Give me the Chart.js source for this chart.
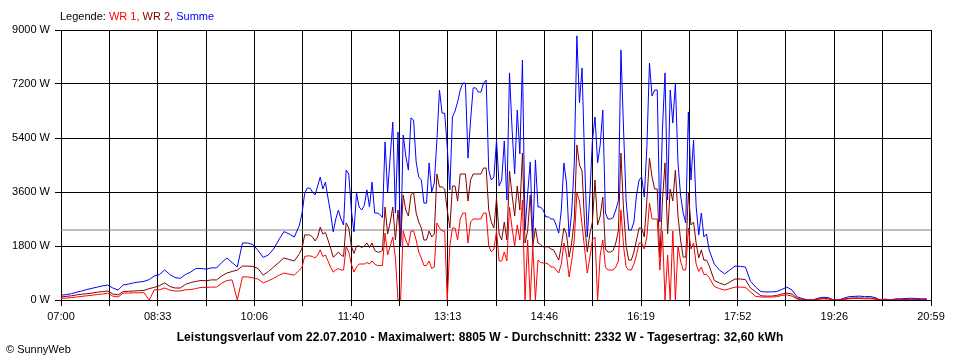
<!DOCTYPE html>
<html><head><meta charset="utf-8">
<script src="https://cdn.jsdelivr.net/npm/chart.js@4.4.1/dist/chart.umd.min.js"></script>
<style>
html,body{margin:0;padding:0;background:#fff;}
#wrap{position:relative;width:960px;height:360px;overflow:hidden;}
canvas{position:absolute;left:0;top:0;}
.txt{position:absolute;font-family:"Liberation Sans",Arial,sans-serif;white-space:nowrap;color:#000;}
#legend{left:60px;top:10px;font-size:11px;line-height:13px;}
#title{left:0;width:960px;text-align:center;top:330px;font-size:12px;font-weight:bold;line-height:14px;letter-spacing:0.1px;}
#copy{left:6px;top:343px;font-size:11px;line-height:13px;}
</style></head><body>
<div id="wrap">
<canvas id="c" width="960" height="360"></canvas>
<div id="legend" class="txt">Legende: <span style="color:#ff0000">WR 1,</span> <span style="color:#800000">WR 2,</span> <span style="color:#0000ff">Summe</span></div>
<div id="title" class="txt">Leistungsverlauf vom 22.07.2010 - Maximalwert: 8805 W - Durchschnitt: 2332 W - Tagesertrag: 32,60 kWh</div>
<div id="copy" class="txt">&copy; SunnyWeb</div>
</div>
<script>
// Time axis in minutes after 07:00. Sampling: 5 min in the morning/evening, 2.5 min around midday.
const totalMinutes = 839; // 07:00 .. 20:59
const sampling = [
  {from: 0,   to: 225, step: 5},
  {from: 230, to: 625, step: 2.5},
  {from: 630, to: 835, step: 5}
];
const xTickLabels = ['07:00','08:33','10:06','11:40','13:13','14:46','16:19','17:52','19:26','20:59'];
const yTickValues = [0,1800,3600,5400,7200,9000];
const averageW = 2332;

// Summe (blue)
const summe = [
 160,180,210,260,300,350,390,430,470,500,
 400,330,500,530,570,600,620,680,800,850,
 1000,850,750,720,850,930,1050,1050,1030,1070,
 1070,1250,1400,1250,1100,1900,1900,1850,1650,1420,
 1500,1700,2000,2280,2200,2100,
 2500,2900,3550,3730,3730,3600,3500,3800,4100,3700,
 3930,3400,2900,2270,2700,3000,2700,2500,4330,4200,
 3000,2270,3570,3100,3000,3150,3670,3100,3930,2900,
 2900,2850,2750,5270,3570,4800,5930,2900,5600,1770,
 5500,4800,4330,6070,6000,4600,4100,4000,3230,3230,
 4570,3600,3900,5330,7000,6230,6230,5100,3670,6100,
 6300,6600,7000,7230,7230,4730,6000,7070,7070,6930,
 6930,7230,7330,4330,4000,4100,5330,3800,4000,5300,
 3330,7570,5700,4200,6330,4870,8000,2330,3530,4600,
 2000,4670,3100,3100,3000,2770,2770,2700,2700,2500,
 2230,3000,4570,3900,2100,2930,4570,8805,6570,7730,
 4570,2100,3500,5330,6100,4570,5170,6330,2900,2700,
 2700,2750,3000,3300,8330,5700,3300,2330,2330,2600,
 3500,4000,4100,3430,5100,7900,6800,7000,7000,2600,
 5670,7570,3330,7000,5900,7230,4570,3500,2900,2570,
 6270,4000,5330,3130,2170,2900,2100,2200,1670,
 1200,1000,870,1000,
 1130,1120,1100,620,430,280,270,270,280,350,
 430,330,100,50,0,0,60,90,80,0,
 0,60,110,120,130,110,120,80,0,30,
 0,40,40,50,60,50,40,40];

// WR 2 (dark red)
const wr2 = [
 100,120,140,170,190,210,230,260,280,300,
 200,170,280,290,300,310,320,380,420,480,
 570,450,400,400,520,580,620,650,640,670,
 670,800,900,950,1000,1130,1130,1120,1050,830,
 950,1100,1250,1400,1350,1300,
 1550,1730,2170,2170,2170,2100,1970,2100,2430,2200,
 2250,2000,1730,1430,1500,1600,1500,1450,2570,2400,
 1800,1550,1800,1800,1750,1800,1900,1750,1900,1650,
 1600,1600,1650,3100,2200,2600,3100,2000,3000,1900,
 3500,3000,2800,3500,3600,2900,2600,2400,2000,2000,
 2300,2100,2200,4200,3770,3770,3700,3000,2400,3800,
 3800,3300,4200,4200,4200,3300,4000,4200,4200,4200,
 4200,4400,4400,3000,2600,2400,3400,2200,2000,2600,
 2000,4300,3500,2800,3800,3000,4900,1900,2300,3500,
 1800,2400,1900,1850,1770,1770,1770,1700,1670,1500,
 1330,1800,2400,2200,1430,1900,2700,5170,4500,4300,
 2500,1600,2200,2600,4000,2500,2800,3430,1700,1600,
 1600,1650,1900,2300,4900,3000,1800,1330,1330,1600,
 2000,2400,2400,2100,3330,4730,4100,3700,3700,1430,
 3300,4570,2200,3700,3300,4330,2800,2000,1430,1430,
 3600,2500,2600,1900,1400,1670,1330,1330,1150,
 650,570,500,600,
 700,700,680,400,270,140,130,130,150,200,
 230,200,50,20,0,0,30,50,40,0,
 0,30,60,70,70,60,70,40,0,10,
 0,10,10,20,20,20,10,10];

// WR 1 (red)
const wr1 = [
 60,60,80,100,120,140,160,180,200,230,
 130,100,230,230,240,240,250,0,340,340,
 400,330,300,300,340,350,380,420,420,430,
 430,560,650,670,0,770,770,740,700,570,
 640,720,820,900,860,830,
 1000,1100,1450,1470,1470,1450,1400,1500,1670,1450,
 1500,1300,1100,930,1000,1050,1000,1000,1770,1600,
 1200,930,1100,1200,1200,1200,1250,1200,1300,1200,
 1150,1150,1150,2230,1500,1800,2100,1400,0,0,
 2300,2000,1800,2300,2300,2000,1600,1400,1150,1150,
 1300,1050,1100,2570,2400,2300,2300,0,1800,2400,
 2400,2000,2700,2900,2900,1900,2600,2700,2700,2700,
 2700,2900,2900,1800,1600,1700,2300,1300,1300,1600,
 1300,3100,2400,1800,2500,2000,3330,0,2000,0,
 1800,0,1330,1250,1230,1230,1200,1100,1100,1000,
 900,1200,1900,1500,770,1300,2000,3570,3300,2500,
 1700,900,1400,2000,2100,0,1500,2000,1100,1000,
 1000,1000,1100,1300,3000,1800,1100,1000,1000,1200,
 1500,1900,1900,1700,2100,3230,2700,2700,2700,1000,
 2300,0,1500,0,2300,0,1800,1300,1000,1000,
 2400,1700,1900,1200,950,1100,850,850,750,
 450,380,330,380,
 430,430,420,270,120,100,100,100,110,150,
 170,130,30,10,0,0,20,40,30,0,
 0,20,40,50,50,40,40,30,0,10,
 0,10,10,10,20,10,10,10];

const times = [];
sampling.forEach(seg => { for (let t = seg.from; t <= seg.to + 1e-9; t += seg.step) times.push(t); });

const toPoints = arr => arr.map((v, i) => ({x: times[i], y: v}));
const FONT = {family: '"Liberation Sans", Arial, sans-serif', size: 11};

const lineDs = (label, arr, color, order) => ({
  label, data: toPoints(arr), borderColor: color, backgroundColor: color,
  borderWidth: 1, pointRadius: 0, tension: 0, fill: false,
  borderJoinStyle: 'round', order
});

new Chart(document.getElementById('c'), {
  type: 'line',
  data: {
    datasets: [
      lineDs('WR 1', wr1, '#ff0000', 0),
      lineDs('WR 2', wr2, '#800000', 1),
      lineDs('Summe', summe, '#0000ff', 2),
      {label: 'Durchschnitt', data: [{x: 0, y: averageW}, {x: totalMinutes, y: averageW}],
       borderColor: '#808080', borderWidth: 1, pointRadius: 0, order: 3}
    ]
  },
  options: {
    responsive: false, animation: false,
    layout: {padding: {left: 0, right: 29, top: 30, bottom: 0}},
    plugins: {legend: {display: false}, tooltip: {enabled: false}, title: {display: false}},
    scales: {
      x: {
        type: 'linear', min: 0, max: totalMinutes,
        afterBuildTicks: s => { s.ticks = Array.from({length: 19}, (_, k) => ({value: k * totalMinutes / 18})); },
        afterFit: s => { s.height = 60; },
        grid: {color: '#000', lineWidth: 1, tickLength: 6, drawTicks: true},
        border: {color: '#000', width: 1},
        ticks: {autoSkip: false, maxRotation: 0, minRotation: 0, padding: 4, color: '#000', font: FONT,
          callback: (v, idx) => (idx % 2 === 0 ? xTickLabels[idx / 2] : '')}
      },
      y: {
        min: 0, max: 9000,
        afterBuildTicks: s => { s.ticks = yTickValues.map(v => ({value: v})); },
        afterFit: s => { s.width = 61; },
        grid: {color: '#000', lineWidth: 1, tickLength: 6, drawTicks: true},
        border: {color: '#000', width: 1},
        ticks: {padding: 5, color: '#000', font: FONT, callback: v => v + ' W'}
      }
    }
  }
});
</script>
</body></html>
